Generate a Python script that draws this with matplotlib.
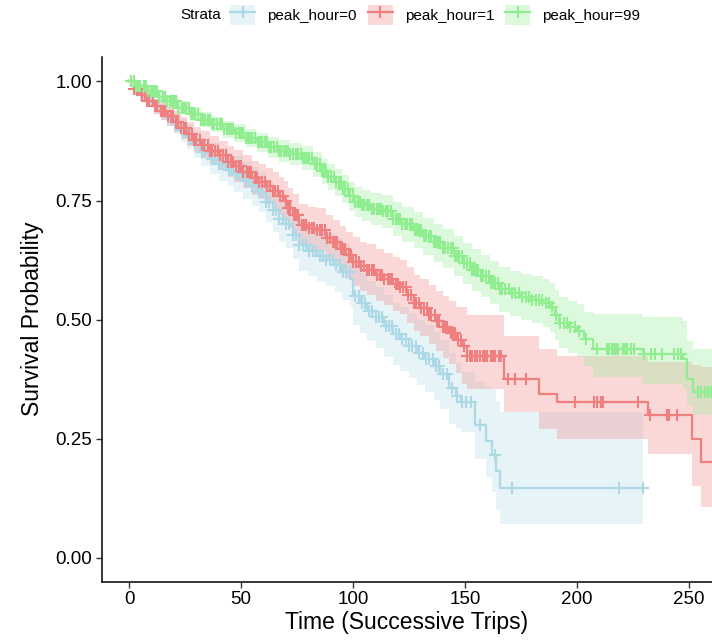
import numpy as np
import matplotlib
matplotlib.use("Agg")
import matplotlib.pyplot as plt
from matplotlib.patches import Patch
from matplotlib.lines import Line2D
from matplotlib.legend_handler import HandlerTuple

plt.rcParams['font.family'] = ['Liberation Sans', 'DejaVu Sans']

# strata names / colours
strata = ['peak_hour=0', 'peak_hour=1', 'peak_hour=99']
colors = ['#ADD8E6', '#F08080', '#90EE90']

# peak_hour=0 : event times, survival, CI
t0 = [0, 2, 5, 8, 11, 14, 17, 20, 23, 26, 29, 32, 36, 40, 44, 47, 51, 55, 58, 61, 64, 67, 70, 73, 76,
      80, 84, 88, 92, 95, 98.6, 100.1, 103, 106, 110, 114, 118, 121, 125, 128.5, 132, 136, 139, 143,
      146, 148, 154.5, 159.5, 161.9, 163.8, 165.6]
s0 = [1.0, 0.985, 0.972, 0.96, 0.948, 0.937, 0.926, 0.912, 0.898, 0.884, 0.868, 0.852, 0.838, 0.826,
      0.815, 0.806, 0.792, 0.78, 0.768, 0.748, 0.73, 0.712, 0.70, 0.678, 0.656, 0.645, 0.634, 0.626,
      0.615, 0.60, 0.585, 0.55, 0.535, 0.518, 0.505, 0.487, 0.47, 0.459, 0.445, 0.431, 0.418, 0.403,
      0.385, 0.356, 0.34, 0.328, 0.278, 0.246, 0.215, 0.182, 0.146]
lo0 = [1.0, 0.976, 0.960, 0.946, 0.932, 0.919, 0.906, 0.890, 0.874, 0.858, 0.840, 0.822, 0.806, 0.792,
       0.780, 0.769, 0.753, 0.739, 0.726, 0.704, 0.684, 0.664, 0.651, 0.627, 0.603, 0.591, 0.579, 0.570,
       0.558, 0.542, 0.526, 0.489, 0.473, 0.455, 0.441, 0.422, 0.404, 0.392, 0.377, 0.362, 0.348, 0.332,
       0.313, 0.282, 0.272, 0.264, 0.208, 0.17, 0.138, 0.10, 0.072]
hi0 = [1.0, 0.994, 0.984, 0.974, 0.964, 0.955, 0.946, 0.934, 0.922, 0.910, 0.896, 0.882, 0.870, 0.860,
       0.850, 0.843, 0.831, 0.821, 0.810, 0.792, 0.776, 0.760, 0.749, 0.729, 0.709, 0.699, 0.689, 0.682,
       0.672, 0.658, 0.644, 0.611, 0.597, 0.581, 0.569, 0.552, 0.536, 0.526, 0.513, 0.500, 0.488, 0.474,
       0.457, 0.430, 0.41, 0.39, 0.37, 0.36, 0.354, 0.33, 0.306]
end0 = 229.7
cens0 = [1, 2.5, 4, 5.5, 7, 8.5, 10, 11.5, 13, 14.5, 16, 17.5, 19, 20.5, 22, 23.5, 25, 26.5, 28, 29.5,
         31, 32.5, 34, 35.5, 37, 38.5, 40, 41.5, 43, 44.5, 46, 47.5, 49, 50.5, 52, 53.5, 55, 56.5, 58,
         59.5, 61, 62.5, 64, 65.5, 67, 68.5, 70, 71.5, 73, 74.5, 76, 77.5, 79, 80.5, 82, 83.5, 85, 86.5,
         88, 89.5, 91, 92.5, 94, 95.5, 97, 98.5, 101, 102.5, 104, 105.5, 107, 108.5, 110, 111.5, 113,
         114.5, 116, 117.5, 119, 120.5, 122, 123.5, 125, 126.5, 128, 129.5, 131, 132.5, 134, 135.5, 137,
         138.5, 140, 142, 144, 146.5, 148.5, 150.5, 152.5, 156.7, 163.3, 170.9, 218.9, 229.4]

# peak_hour=1
t1 = [0, 2, 5, 8, 11, 14, 17, 20, 23, 26, 29, 32, 36, 40, 44, 47, 51, 55, 58, 61, 64, 67, 69, 71, 73,
      76, 80, 84, 88, 91, 94, 97, 100, 103, 106, 110, 114, 118, 121, 124, 127, 130, 134, 137, 140, 143,
      146, 148.5, 150.8, 167.5, 183, 191, 231.5, 251.5, 255.5]
s1 = [1.0, 0.985, 0.972, 0.96, 0.948, 0.937, 0.927, 0.915, 0.902, 0.89, 0.878, 0.867, 0.855, 0.845,
      0.832, 0.822, 0.81, 0.798, 0.79, 0.78, 0.77, 0.76, 0.75, 0.735, 0.72, 0.698, 0.692, 0.688, 0.672,
      0.662, 0.648, 0.635, 0.622, 0.612, 0.605, 0.594, 0.585, 0.575, 0.568, 0.552, 0.535, 0.525, 0.51,
      0.497, 0.485, 0.473, 0.458, 0.445, 0.424, 0.375, 0.344, 0.327, 0.300, 0.25, 0.201]
lo1 = [1.0, 0.976, 0.960, 0.946, 0.932, 0.919, 0.907, 0.893, 0.879, 0.865, 0.852, 0.839, 0.826, 0.814,
       0.800, 0.789, 0.776, 0.762, 0.753, 0.742, 0.731, 0.720, 0.709, 0.693, 0.677, 0.654, 0.647, 0.642,
       0.625, 0.614, 0.599, 0.585, 0.571, 0.560, 0.552, 0.540, 0.530, 0.519, 0.511, 0.494, 0.476, 0.465,
       0.448, 0.434, 0.420, 0.406, 0.389, 0.366, 0.354, 0.306, 0.271, 0.25, 0.218, 0.15, 0.107]
hi1 = [1.0, 0.994, 0.984, 0.974, 0.964, 0.955, 0.947, 0.937, 0.926, 0.915, 0.905, 0.895, 0.885, 0.876,
       0.865, 0.856, 0.845, 0.834, 0.827, 0.818, 0.809, 0.800, 0.791, 0.777, 0.763, 0.742, 0.737, 0.734,
       0.719, 0.710, 0.697, 0.685, 0.673, 0.664, 0.658, 0.648, 0.640, 0.631, 0.625, 0.610, 0.594, 0.585,
       0.572, 0.560, 0.550, 0.540, 0.527, 0.526, 0.51, 0.466, 0.438, 0.424, 0.411, 0.405, 0.40]
end1 = 270
cens1 = [1, 2, 3.5, 4.5, 5.5, 7, 8, 9, 10.5, 11.5, 12.5, 14, 15, 16, 17.5, 18.5, 19.5, 21, 22, 23, 24.5,
         25.5, 26.5, 28, 29, 30, 31.5, 32.5, 33.5, 35, 36, 37, 38.5, 39.5, 40.5, 42, 43, 44, 45.5, 46.5,
         47.5, 49, 50, 51, 52.5, 53.5, 54.5, 56, 57, 58, 59.5, 60.5, 61.5, 63, 64, 65, 66.5, 67.5, 68.5,
         70, 71, 72, 73.5, 74.5, 75.5, 77, 78, 79, 80.5, 81.5, 82.5, 84, 85, 86, 87.5, 88.5, 89.5, 91,
         92, 93, 94.5, 95.5, 96.5, 98, 99, 100, 101.5, 102.5, 103.5, 105, 106, 107, 108.5, 109.5, 110.5,
         112, 113, 114, 115.5, 116.5, 117.5, 119, 120, 121, 122.5, 123.5, 124.5, 126, 127, 128, 129.5,
         130.5, 131.5, 133, 134, 135, 136.5, 137.5, 138.5, 140, 141, 142, 143.5, 144.5, 145.5, 147, 148,
         149.5, 151, 152, 153, 154.5, 155.5, 156.5, 158, 159, 160, 161.5, 162.5, 163.5, 165, 166, 169,
         172.5, 177, 199.2, 207.5, 209, 210.5, 211.5, 227.4, 232.7, 240, 241, 244.6]

# peak_hour=99
t2 = [0, 3, 8, 13, 17, 22, 27, 32, 37, 42, 47, 52, 57, 62, 67, 72, 77, 82, 86, 89, 92, 95, 98, 101, 104,
      108, 113, 118, 122, 127, 131, 136, 140, 145, 149, 153, 157, 161, 165, 170, 175, 180, 185, 188, 190,
      192, 196, 200, 203, 207, 229.5, 247.5, 249, 252]
s2 = [1.0, 0.99, 0.98, 0.968, 0.958, 0.945, 0.932, 0.92, 0.91, 0.90, 0.892, 0.882, 0.872, 0.862, 0.855,
      0.848, 0.84, 0.826, 0.812, 0.80, 0.788, 0.775, 0.76, 0.748, 0.74, 0.733, 0.728, 0.712, 0.70, 0.688,
      0.675, 0.662, 0.65, 0.634, 0.618, 0.605, 0.592, 0.578, 0.564, 0.555, 0.548, 0.542, 0.535, 0.526,
      0.51, 0.494, 0.485, 0.477, 0.46, 0.438, 0.428, 0.417, 0.375, 0.348]
lo2 = [1.0, 0.984, 0.972, 0.958, 0.946, 0.932, 0.917, 0.904, 0.893, 0.882, 0.873, 0.862, 0.851, 0.840,
       0.832, 0.824, 0.815, 0.800, 0.785, 0.772, 0.759, 0.745, 0.729, 0.716, 0.707, 0.699, 0.693, 0.676,
       0.663, 0.650, 0.636, 0.622, 0.609, 0.592, 0.575, 0.561, 0.547, 0.532, 0.517, 0.507, 0.499, 0.492,
       0.484, 0.474, 0.457, 0.440, 0.430, 0.421, 0.403, 0.379, 0.365, 0.354, 0.318, 0.300]
hi2 = [1.0, 0.996, 0.988, 0.977, 0.969, 0.958, 0.946, 0.935, 0.926, 0.917, 0.910, 0.901, 0.892, 0.883,
       0.877, 0.871, 0.864, 0.851, 0.838, 0.827, 0.816, 0.804, 0.790, 0.779, 0.772, 0.766, 0.762, 0.747,
       0.736, 0.725, 0.713, 0.701, 0.690, 0.675, 0.660, 0.648, 0.636, 0.623, 0.610, 0.602, 0.596, 0.591,
       0.585, 0.577, 0.562, 0.547, 0.540, 0.532, 0.517, 0.512, 0.505, 0.497, 0.455, 0.438]
end2 = 270
cens2 = [1, 2, 3, 4, 5, 6.5, 7.5, 8.5, 9.5, 10.5, 11.5, 12.5, 13.5, 15, 16, 17, 18, 19, 20, 21, 22, 23.5,
         24.5, 25.5, 26.5, 27.5, 28.5, 29.5, 30.5, 32, 33, 34, 35, 36, 37, 38, 39, 40.5, 41.5, 42.5, 43.5,
         44.5, 45.5, 46.5, 47.5, 49, 50, 51, 52, 53, 54, 55, 56, 57.5, 58.5, 59.5, 60.5, 61.5, 62.5, 63.5,
         64.5, 66, 67, 68, 69, 70, 71, 72, 73, 74.5, 75.5, 76.5, 77.5, 78.5, 79.5, 80.5, 81.5, 83, 84, 85,
         86, 87, 88, 89, 90, 91.5, 92.5, 93.5, 94.5, 95.5, 96.5, 97.5, 98.5, 100, 101, 102, 103, 104, 105,
         106, 107, 108.5, 109.5, 110.5, 111.5, 112.5, 113.5, 114.5, 115.5, 117, 118, 119, 120, 121, 122,
         123, 124, 125.5, 126.5, 127.5, 128.5, 129.5, 130.5, 131.5, 132.5, 134, 135, 136, 137, 138, 139,
         140, 141, 142.5, 143.5, 144.5, 145.5, 146.5, 147.5, 148.5, 149.5, 151, 152, 153, 154, 155, 156,
         157, 158, 159.5, 160.5, 161.5, 162.5, 163.5, 164.5, 165.5, 166.5, 168, 169.5, 171, 172.5, 174,
         175.5, 177, 178.5, 180, 181.5, 183, 184.5, 186, 187.5, 189, 190.5, 192.5, 194, 195.5, 197, 199,
         201, 204, 209, 213.5, 214.5, 215.5, 216.5, 217.5, 218.5, 220.5, 221.5, 222.5, 224, 225.5, 230,
         233, 235, 238, 243.5, 245, 246.5, 254, 255.5, 257, 258.5, 260]

groups = [(t0, s0, lo0, hi0, end0, cens0),
          (t1, s1, lo1, hi1, end1, cens1),
          (t2, s2, lo2, hi2, end2, cens2)]

fig = plt.figure(figsize=(7.12, 6.4), dpi=100)
ax = fig.add_axes([101.7 / 712, 58.3 / 640, 1 - 101.7 / 712, 525 / 640])

# confidence ribbons first
for (t, s, lo, hi, end, cens), c in zip(groups, colors):
    tt = np.append(t, end)
    ax.fill_between(tt, np.append(lo, lo[-1]), np.append(hi, hi[-1]), step='post',
                    color=c, alpha=0.3, linewidth=0)

# survival steps
for (t, s, lo, hi, end, cens), c in zip(groups, colors):
    tt = np.append(t, end)
    ax.step(tt, np.append(s, s[-1]), where='post', color=c, lw=1.6)

# censor marks
for (t, s, lo, hi, end, cens), c in zip(groups, colors):
    idx = np.searchsorted(t, cens, side='right') - 1
    ax.plot(cens, np.array(s)[idx], linestyle='none', marker='+', color=c, ms=8, mew=1.5)

ax.set_xlim(-12.3, 260.3)
ax.set_ylim(-0.05, 1.052)
ax.set_xticks([0, 50, 100, 150, 200, 250])
ax.set_yticks([0, 0.25, 0.5, 0.75, 1.0])
ax.set_yticklabels(['0.00', '0.25', '0.50', '0.75', '1.00'])
ax.tick_params(labelsize=13.5, length=4, width=1, color='#333333', labelcolor='black', pad=3)
ax.spines['top'].set_visible(False)
ax.spines['right'].set_visible(False)
ax.spines['left'].set_linewidth(1.1)
ax.spines['bottom'].set_linewidth(1.1)
ax.set_xlabel('Time (Successive Trips)', fontsize=16.5, labelpad=2)
ax.set_ylabel('Survival Probability', fontsize=16.5, labelpad=8)

# legend on top
handles = [(Patch(facecolor=c, alpha=0.3, edgecolor='none'),
            Line2D([], [], color=c, lw=1.6, marker='+', ms=8, mew=1.5)) for c in colors]
fig.text(180 / 712, 1 - 15 / 640, 'Strata', fontsize=11, va='center', ha='left')
fig.legend(handles, strata, ncol=3, loc='center left', bbox_to_anchor=(218 / 712, 1 - 15 / 640),
           frameon=False, fontsize=11, handlelength=1.64, handleheight=1.64,
           handletextpad=0.8, columnspacing=0.7, borderpad=0.3,
           handler_map={tuple: HandlerTuple(ndivide=1, pad=0)})

fig.savefig('out.png', dpi=100)
